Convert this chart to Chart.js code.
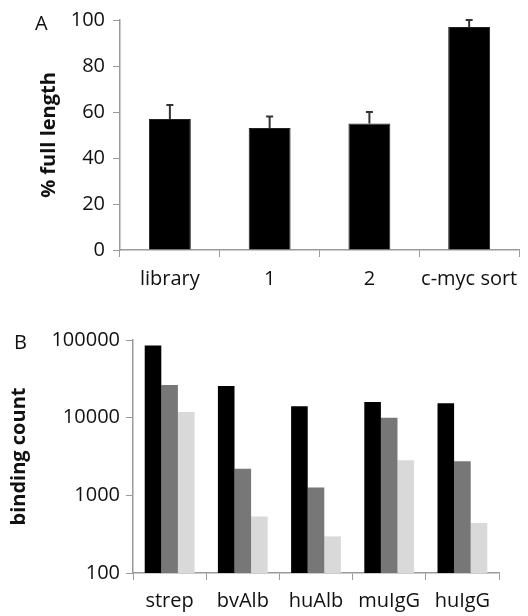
<!DOCTYPE html>
<html>
<head>
<meta charset="utf-8">
<script src="https://cdn.jsdelivr.net/npm/chart.js@4"></script>
<style>
    body { margin: 0; background: #fff; }
    #wrap { position: relative; width: 528px; height: 616px; font-family: "Open Sans", sans-serif; }
    .panel { position: absolute; left: 0; width: 528px; }
    .letter { position: absolute; font-size: 20px; line-height: 24px; color: #111; }
</style>
</head>
<body>
<div id="wrap">
    <div class="panel" style="top:0;height:300px"><canvas id="chartA" width="528" height="300"></canvas></div>
    <div class="panel" style="top:300px;height:316px"><canvas id="chartB" width="528" height="316"></canvas></div>
    <div class="letter" style="left:35px;top:11px">A</div>
    <div class="letter" style="left:14px;top:330px">B</div>
</div>
<script>
// panel A
var categoriesA = ['library', '1', '2', 'c-myc sort'];
var fullLength = [57, 53, 55, 97];
var fullLengthErr = [6, 5, 5, 3];
var ticksA = [0, 20, 40, 60, 80, 100];

// panel B
var categoriesB = ['strep', 'bvAlb', 'huAlb', 'muIgG', 'huIgG'];
var bindingBlack = [85000, 25500, 14000, 15900, 15300];
var bindingGray = [26300, 2200, 1260, 10000, 2750];
var bindingLight = [11800, 535, 296, 2830, 440];
var ticksB = [100, 1000, 10000, 100000];

Chart.defaults.font.family = '"Open Sans", sans-serif';
Chart.defaults.color = '#111';
Chart.defaults.animation = false;

var axisColor = '#9a9a9a';

// upper error bars drawn through the y scale
var errorBars = {
    id: 'errorBars',
    afterDatasetsDraw: function (chart) {
        var ctx = chart.ctx;
        var y = chart.scales.y;
        var meta = chart.getDatasetMeta(0);
        ctx.save();
        ctx.strokeStyle = '#333';
        ctx.lineWidth = 2;
        meta.data.forEach(function (bar, i) {
            var top = y.getPixelForValue(fullLength[i] + fullLengthErr[i]);
            ctx.beginPath();
            ctx.moveTo(bar.x, bar.y);
            ctx.lineTo(bar.x, top);
            ctx.moveTo(bar.x - 3.5, top);
            ctx.lineTo(bar.x + 3.5, top);
            ctx.stroke();
        });
        ctx.restore();
    }
};

new Chart(document.getElementById('chartA').getContext('2d'), {
    type: 'bar',
    data: {
        labels: categoriesA,
        datasets: [{
            data: fullLength,
            backgroundColor: '#000',
            borderColor: '#222',
            borderWidth: 1,
            categoryPercentage: 1,
            barPercentage: 0.42
        }]
    },
    options: {
        responsive: false,
        layout: { padding: { left: 0, right: 6, top: 16, bottom: 0 } },
        plugins: { legend: { display: false }, tooltip: { enabled: false } },
        scales: {
            x: {
                offset: true,
                grid: { offset: true, drawOnChartArea: false, color: axisColor, tickLength: 7 },
                border: { color: axisColor, width: 1.5 },
                ticks: { font: { size: 20 }, padding: 10, maxRotation: 0 },
                afterFit: function (s) { s.height = 50; }
            },
            y: {
                min: 0,
                max: 100,
                afterBuildTicks: function (s) { s.ticks = ticksA.map(function (v) { return { value: v }; }); },
                grid: { drawOnChartArea: false, color: axisColor, tickLength: 7 },
                border: { color: axisColor, width: 1.5 },
                ticks: { font: { size: 20 }, padding: 8 },
                title: {
                    display: true,
                    text: '% full length',
                    font: { size: 20, weight: 'bold' },
                    padding: { top: 37, bottom: 0 }
                },
                afterFit: function (s) { s.width = 120; }
            }
        }
    },
    plugins: [errorBars]
});

new Chart(document.getElementById('chartB').getContext('2d'), {
    type: 'bar',
    data: {
        labels: categoriesB,
        datasets: [
            { data: bindingBlack, backgroundColor: '#000' },
            { data: bindingGray, backgroundColor: '#777777' },
            { data: bindingLight, backgroundColor: '#d9d9d9' }
        ]
    },
    options: {
        responsive: false,
        layout: { padding: { left: 0, right: 29, top: 40, bottom: 0 } },
        datasets: { bar: { categoryPercentage: 0.68, barPercentage: 1 } },
        plugins: { legend: { display: false }, tooltip: { enabled: false } },
        scales: {
            x: {
                offset: true,
                grid: { offset: true, drawOnChartArea: false, color: axisColor, tickLength: 7 },
                border: { color: axisColor, width: 1.5 },
                ticks: { font: { size: 20 }, padding: 9, maxRotation: 0 },
                afterFit: function (s) { s.height = 43; }
            },
            y: {
                type: 'logarithmic',
                min: 100,
                max: 100000,
                afterBuildTicks: function (s) { s.ticks = ticksB.map(function (v) { return { value: v }; }); },
                grid: { drawOnChartArea: false, color: axisColor, tickLength: 7 },
                border: { color: axisColor, width: 1.5 },
                ticks: {
                    font: { size: 20 },
                    padding: 6,
                    callback: function (v) { return String(v); }
                },
                title: {
                    display: true,
                    text: 'binding count',
                    font: { size: 20, weight: 'bold' },
                    padding: { top: 7, bottom: 0 }
                },
                afterFit: function (s) { s.width = 133; }
            }
        }
    }
});
</script>
</body>
</html>
